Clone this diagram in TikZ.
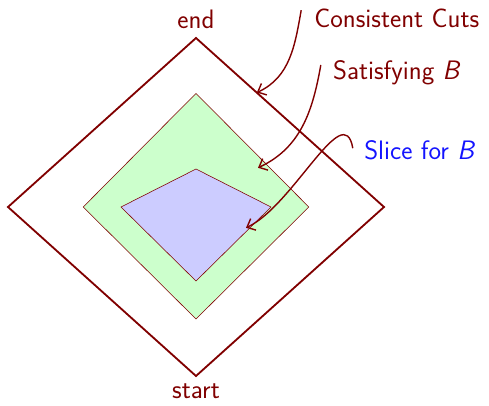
\documentclass[tikz,border=0pt]{standalone}
\usepackage{tikz}
\usetikzlibrary{arrows.meta,positioning}
\definecolor{CutRed}{RGB}{128,0,0}
\definecolor{SatGreen}{RGB}{204,255,204}
\definecolor{SliceFill}{RGB}{204,204,255}
\definecolor{SliceText}{RGB}{20,20,255}

\begin{document}
\begin{tikzpicture}[
    font=\sffamily\fontsize{19}{23}\selectfont,
    lbl/.style={text=CutRed,anchor=west,inner sep=0pt},
    ptr/.style={CutRed,line width=1pt,-{Straight Barb[length=5pt,width=9pt]}}]
  \useasboundingbox (-4.9,-4.95) rectangle (7.325,5.175);
  % lattice of all consistent cuts
  \draw[CutRed,line width=1.3pt] (0,4.225) -- (4.7,0) -- (0,-4.225) -- (-4.7,0) -- cycle;
  % cuts satisfying B
  \filldraw[fill=SatGreen,draw=CutRed,thin] (0,2.84) -- (2.82,0) -- (0,-2.8) -- (-2.82,0) -- cycle;
  % the slice
  \filldraw[fill=SliceFill,draw=CutRed,thin] (0,0.95) -- (1.875,0) -- (0,-1.85) -- (-1.875,0) -- cycle;
  \node[text=CutRed] (end) at (0,4.68) {end};
  \node[text=CutRed,inner sep=1pt] (start) at (0,-4.6) {start};
  % labels
  \node[lbl] (cuts) at (2.95,4.72) {Consistent Cuts};
  \node[lbl] (sat) at (3.42,3.35) {Satisfying \textit{B}};
  \node[lbl,text=SliceText] (slice) at (4.2,1.42) {Slice for \textit{B}};
  \coordinate (cutsfrom) at (2.63,4.92);
  \coordinate (cutsto) at (1.52,2.86);
  \coordinate (satfrom) at (3.12,3.55);
  \coordinate (satto) at (1.55,0.98);
  \coordinate (slicefrom) at (3.92,1.47);
  \coordinate (sliceto) at (1.25,-0.52);
  \draw[ptr] (cutsfrom) to[out=-100,in=25] (cutsto);
  \draw[ptr] (satfrom) to[out=-100,in=25] (satto);
  \draw[ptr] (slicefrom) to[out=100,in=25] (sliceto);
\end{tikzpicture}
\end{document}
